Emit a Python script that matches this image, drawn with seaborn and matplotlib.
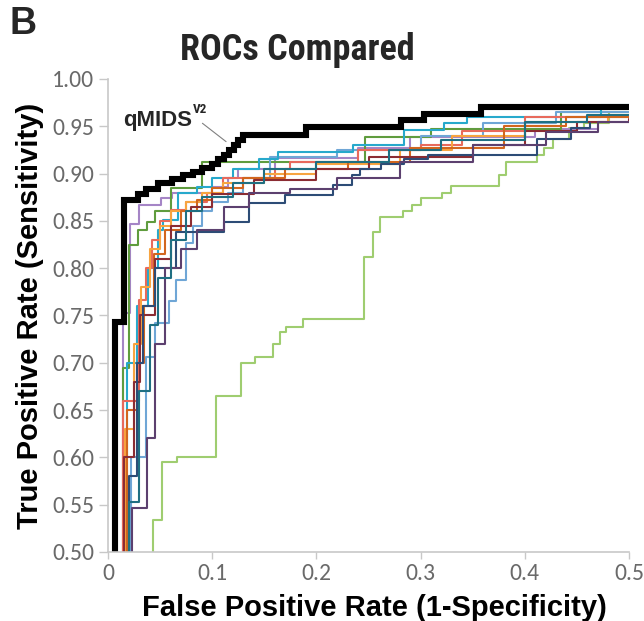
import numpy as np
import pandas as pd
import matplotlib
matplotlib.use("Agg")
import matplotlib.pyplot as plt
import seaborn as sns
from matplotlib import font_manager as fm

# ---------------- data ----------------
qmids_fpr = [0, 0.0065, 0.0155, 0.029, 0.036, 0.048, 0.061, 0.072, 0.082, 0.090, 0.0997, 0.106,
             0.111, 0.116, 0.1205, 0.125, 0.130, 0.19, 0.281, 0.303, 0.358, 0.5]
qmids_tpr = [0.4, 0.743, 0.872, 0.878, 0.884, 0.890, 0.894, 0.898, 0.902, 0.906, 0.910, 0.915,
             0.920, 0.925, 0.930, 0.935, 0.941, 0.949, 0.957, 0.963, 0.970, 0.970]

lgreen_fpr = [0, 0.043, 0.052, 0.066, 0.104, 0.128, 0.141, 0.158, 0.165, 0.171, 0.1875, 0.2455,
              0.2545, 0.2615, 0.283, 0.292, 0.30, 0.321, 0.329, 0.375, 0.382, 0.412, 0.4186,
              0.4266, 0.4426, 0.457, 0.481, 0.5]
lgreen_tpr = [0.4, 0.534, 0.595, 0.60, 0.665, 0.70, 0.706, 0.72, 0.733, 0.738, 0.746, 0.812,
              0.8386, 0.8545, 0.86, 0.867, 0.874, 0.879, 0.887, 0.8985, 0.9126, 0.92, 0.9267,
              0.937, 0.948, 0.953, 0.9654, 0.9654]

purple_fpr = [0, 0.014, 0.021, 0.030, 0.051, 0.061, 0.10, 0.115, 0.125, 0.16, 0.24, 0.29, 0.41, 0.47]
purple_tpr = [0.4, 0.753, 0.847, 0.867, 0.874, 0.879, 0.886, 0.895, 0.905, 0.916, 0.927, 0.939, 0.947, 0.953]

olive_fpr = [0, 0.014, 0.020, 0.029, 0.037, 0.045, 0.06, 0.09, 0.247, 0.31, 0.435, 0.48]
olive_tpr = [0.4, 0.695, 0.824, 0.84, 0.849, 0.86, 0.885, 0.9126, 0.939, 0.947, 0.9654, 0.9654]

lblue_fpr = [0, 0.022, 0.0365, 0.045, 0.059, 0.065, 0.075, 0.082, 0.09, 0.10, 0.115, 0.13,
             0.155, 0.22, 0.30, 0.36, 0.43, 0.5]
lblue_tpr = [0.4, 0.60, 0.706, 0.742, 0.765, 0.787, 0.827, 0.845, 0.86, 0.87, 0.88, 0.895,
             0.918, 0.925, 0.94, 0.953, 0.965, 0.965]

cyan_fpr = [0, 0.018, 0.028, 0.038, 0.048, 0.053, 0.067, 0.085, 0.10, 0.12, 0.145, 0.163,
            0.235, 0.284, 0.322, 0.345, 0.473, 0.5]
cyan_tpr = [0.4, 0.70, 0.76, 0.80, 0.84, 0.851, 0.879, 0.886, 0.895, 0.905, 0.915, 0.923,
            0.93, 0.946, 0.953, 0.96, 0.9725, 0.9725]

salmon_fpr = [0, 0.014, 0.030, 0.036, 0.042, 0.05, 0.06, 0.075, 0.095, 0.11, 0.16, 0.175,
              0.24, 0.30, 0.34, 0.40, 0.5]
salmon_tpr = [0.4, 0.66, 0.766, 0.80, 0.83, 0.85, 0.862, 0.87, 0.88, 0.895, 0.905, 0.912,
              0.925, 0.93, 0.945, 0.96, 0.96]

orange_fpr = [0, 0.016, 0.025, 0.032, 0.040, 0.05, 0.06, 0.075, 0.09, 0.11, 0.15, 0.20,
              0.28, 0.33, 0.40, 0.48, 0.5]
orange_tpr = [0.4, 0.63, 0.72, 0.78, 0.82, 0.845, 0.86, 0.87, 0.88, 0.89, 0.90, 0.91,
              0.925, 0.94, 0.955, 0.962, 0.962]

dorange_fpr = [0, 0.018, 0.028, 0.035, 0.044, 0.055, 0.07, 0.085, 0.10, 0.13, 0.17, 0.23,
               0.29, 0.38, 0.44, 0.5]
dorange_tpr = [0.4, 0.65, 0.70, 0.76, 0.815, 0.84, 0.86, 0.872, 0.885, 0.895, 0.905, 0.912,
               0.927, 0.95, 0.96, 0.96]

maroon_fpr = [0, 0.015, 0.025, 0.031, 0.045, 0.06, 0.08, 0.10, 0.14, 0.20, 0.25, 0.35,
              0.40, 0.45, 0.5]
maroon_tpr = [0.4, 0.60, 0.68, 0.75, 0.81, 0.845, 0.865, 0.878, 0.893, 0.905, 0.918, 0.93,
              0.945, 0.955, 0.958]

navy_fpr = [0, 0.020, 0.028, 0.034, 0.045, 0.065, 0.111, 0.135, 0.17, 0.216, 0.234, 0.242,
            0.262, 0.284, 0.307, 0.412, 0.444, 0.463]
navy_tpr = [0.4, 0.58, 0.70, 0.76, 0.80, 0.838, 0.849, 0.869, 0.877, 0.888, 0.8985, 0.905,
            0.91, 0.915, 0.92, 0.937, 0.948, 0.953]

dpurple_fpr = [0, 0.023, 0.037, 0.045, 0.055, 0.07, 0.085, 0.111, 0.135, 0.175, 0.22, 0.28,
               0.35, 0.42, 0.47, 0.5]
dpurple_tpr = [0.4, 0.5465, 0.62, 0.72, 0.80, 0.82, 0.84, 0.865, 0.879, 0.884, 0.895, 0.912,
               0.93, 0.944, 0.955, 0.955]

dteal_fpr = [0, 0.020, 0.030, 0.040, 0.048, 0.06, 0.075, 0.09, 0.12, 0.15, 0.20, 0.27,
             0.32, 0.40, 0.46, 0.5]
dteal_tpr = [0.4, 0.553, 0.67, 0.74, 0.79, 0.83, 0.86, 0.875, 0.89, 0.905, 0.912, 0.925,
             0.935, 0.955, 0.962, 0.962]

model_names = ["lgreen", "purple", "olive", "lblue", "cyan", "salmon", "orange",
               "dorange", "maroon", "navy", "dpurple", "dteal"]
model_colors = ["#9fcd70", "#a585c6", "#5f9c3e", "#6fa6d6", "#27a9cc", "#e86a5c", "#f7a440",
                "#d2661e", "#8b2c33", "#2d4c76", "#5c406f", "#1f6f82"]
curves = {
    "lgreen": (lgreen_fpr, lgreen_tpr), "purple": (purple_fpr, purple_tpr),
    "olive": (olive_fpr, olive_tpr), "lblue": (lblue_fpr, lblue_tpr),
    "cyan": (cyan_fpr, cyan_tpr), "salmon": (salmon_fpr, salmon_tpr),
    "orange": (orange_fpr, orange_tpr), "dorange": (dorange_fpr, dorange_tpr),
    "maroon": (maroon_fpr, maroon_tpr), "navy": (navy_fpr, navy_tpr),
    "dpurple": (dpurple_fpr, dpurple_tpr), "dteal": (dteal_fpr, dteal_tpr),
}

x_ticks = [0, 0.1, 0.2, 0.3, 0.4, 0.5]
x_tick_labels = ["0", "0.1", "0.2", "0.3", "0.4", "0.5"]
y_ticks = [0.50, 0.55, 0.60, 0.65, 0.70, 0.75, 0.80, 0.85, 0.90, 0.95, 1.00]
y_tick_labels = ["0.50", "0.55", "0.60", "0.65", "0.70", "0.75", "0.80", "0.85", "0.90", "0.95", "1.00"]

# ---------------- style ----------------
sns.set_theme(style="white")
plt.rcParams["font.family"] = ["Liberation Sans", "DejaVu Sans"]

installed = {f.name for f in fm.fontManager.ttflist}
cond_family = next((n for n in ["Roboto Condensed", "PT Sans Narrow", "Fira Sans Condensed",
                                "Liberation Sans Narrow"] if n in installed), "Liberation Sans")
cond_bold = fm.FontProperties(family=[cond_family, "DejaVu Sans"], weight="bold",
                              stretch="condensed")
tick_font = "Carlito" if "Carlito" in installed else "Lato"

rows = []
for name in model_names:
    fx, fy = curves[name]
    for a, b in zip(fx, fy):
        rows.append({"model": name, "fpr": a, "tpr": b})
df = pd.DataFrame(rows)
df_q = pd.DataFrame({"fpr": qmids_fpr, "tpr": qmids_tpr})

fig = plt.figure(figsize=(6.44, 6.21), dpi=100)
ax = fig.add_axes([108 / 644, 1 - 552 / 621, 521 / 644, 473 / 621])

sns.lineplot(data=df, x="fpr", y="tpr", hue="model", hue_order=model_names,
             palette=dict(zip(model_names, model_colors)), estimator=None, sort=False,
             drawstyle="steps-post", linewidth=1.5, legend=False, ax=ax)
sns.lineplot(data=df_q, x="fpr", y="tpr", color="black", estimator=None, sort=False,
             drawstyle="steps-post", linewidth=4.4, legend=False, ax=ax,
             solid_capstyle="round", solid_joinstyle="miter")

ax.set_xlim(0, 0.5)
ax.set_ylim(0.5, 1.0)
ax.set_xticks(x_ticks)
ax.set_xticklabels(x_tick_labels)
ax.set_yticks(y_ticks)
ax.set_yticklabels(y_tick_labels)
for lab in ax.get_xticklabels() + ax.get_yticklabels():
    lab.set_family([tick_font, "DejaVu Sans"])
    lab.set_fontsize(17)
ax.tick_params(axis="y", direction="out", length=6.5, width=1, color="#c8c8c8",
               labelcolor="#6a6a6a", pad=3.5, left=True)
ax.tick_params(axis="x", direction="out", length=5, width=1, color="#c8c8c8",
               labelcolor="#6a6a6a", pad=3, bottom=True)
for s in ["top", "right"]:
    ax.spines[s].set_visible(False)
for s in ["left", "bottom"]:
    ax.spines[s].set_color("#c8c8c8")
    ax.spines[s].set_linewidth(1.2)

ax.set_xlabel("False Positive Rate (1-Specificity)", fontsize=21, fontweight="bold",
              color="black")
ax.xaxis.set_label_coords(0.5106, -0.089)
ax.set_ylabel("True Positive Rate (Sensitivity)", fontsize=21, fontweight="bold",
              color="black", labelpad=6)

fig.text(0.461, 1 - 60 / 621, "ROCs Compared", ha="center", va="baseline",
         fontproperties=cond_bold, fontsize=26)
fig.text(10 / 644, 1 - 34 / 621, "B", ha="left", va="baseline", fontsize=27,
         fontweight="bold", family=["Liberation Sans", "DejaVu Sans"])

ax.annotate("", xy=(0.1154, 0.932), xytext=(0.0885, 0.955),
            arrowprops=dict(arrowstyle="-", color="#808080", lw=0.8))
ax.text(0.0144, 0.9503, "qMIDS", ha="left", va="baseline", fontsize=16, fontweight="bold",
        family=["Liberation Sans", "DejaVu Sans"])
ax.text(0.0817, 0.964, "V2", ha="left", va="baseline", fontproperties=cond_bold,
        fontsize=9.5)

fig.savefig("out.png", dpi=100, facecolor="white")
